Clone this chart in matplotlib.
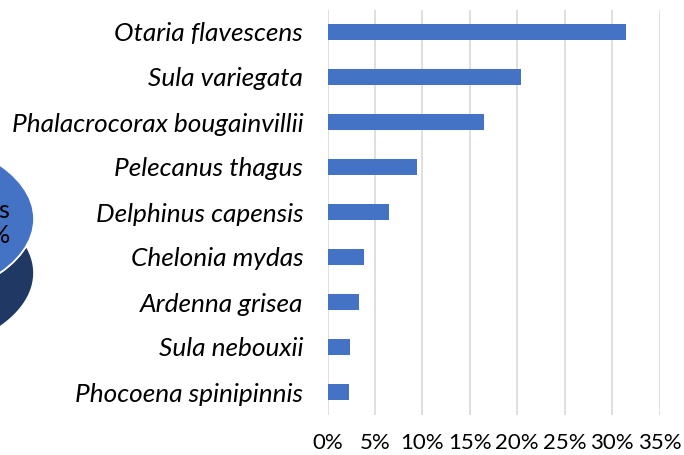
import matplotlib
matplotlib.use("Agg")
import matplotlib.pyplot as plt
from matplotlib.patches import Ellipse, Polygon
import numpy as np

# datos
especies = ['Otaria flavescens', 'Sula variegata', 'Phalacrocorax bougainvillii',
            'Pelecanus thagus', 'Delphinus capensis', 'Chelonia mydas',
            'Ardenna grisea', 'Sula nebouxii', 'Phocoena spinipinnis']
porcentaje = [0.315, 0.204, 0.165, 0.094, 0.065, 0.0385, 0.033, 0.024, 0.023]
ticks_x = [0, 0.05, 0.10, 0.15, 0.20, 0.25, 0.30, 0.35]
etiquetas_x = ['0%', '5%', '10%', '15%', '20%', '25%', '30%', '35%']

W, H = 684, 455
fig = plt.figure(figsize=(W / 100, H / 100), dpi=100)

# fondo con el pedazo de pie 3D a la izquierda
bg = fig.add_axes([0, 0, 1, 1])
bg.set_xlim(0, W)
bg.set_ylim(H, 0)
bg.axis('off')
cx, cy, a, b, depth = -116, 219, 150, 85, 54
t = np.linspace(-np.pi / 2, np.pi / 2, 200)
xs = cx + a * np.cos(t)
ys = cy + b * np.sin(t)
lado = list(zip(xs, ys + depth)) + list(zip(xs[::-1], ys[::-1]))
bg.add_patch(Polygon(lado, closed=True, facecolor='#1F3864', edgecolor='white', lw=1.2))
bg.add_patch(Ellipse((cx, cy), 2 * a, 2 * b, facecolor='#4472C4', edgecolor='white', lw=1.2))
bg.text(11, 223, 'Aves\n45%', ha='right', va='center', fontsize=18,
        family='Lato', color='black', linespacing=1.15)

# grafico de barras
ax = fig.add_axes([327.5 / W, (H - 414.5) / H, 332 / W, 405 / H])
y = np.arange(len(especies))
ax.barh(y, porcentaje, height=0.36, color='#4472C4')
ax.set_ylim(len(especies) - 0.5, -0.5)
ax.set_xlim(0, 0.35)
ax.set_xticks(ticks_x)
ax.set_xticklabels(etiquetas_x, fontsize=16, family='Lato')
ax.set_yticks(y)
ax.set_yticklabels(especies, fontsize=18.9, family='Lato', style='italic')
ax.tick_params(axis='y', length=0, pad=17.5)
ax.tick_params(axis='x', length=0, pad=13.5)
ax.grid(axis='x', color='#D9D9D9', lw=1.2)
ax.set_axisbelow(True)
for s in ax.spines.values():
    s.set_visible(False)
ax.patch.set_alpha(0)

plt.savefig('out.png', dpi=100)
